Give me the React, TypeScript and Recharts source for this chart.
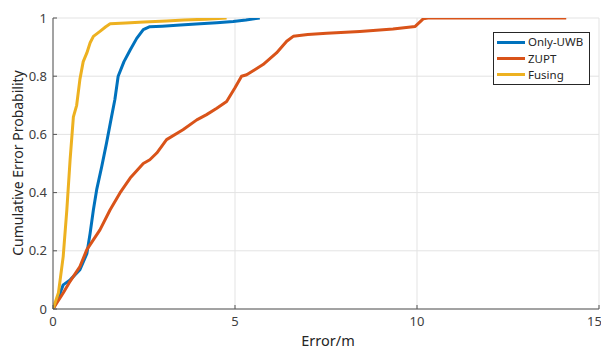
import { LineChart, Line, XAxis, YAxis, CartesianGrid, Legend } from 'recharts';

// error (m) vs cumulative probability, one pair of arrays per method
const uwbErr = [0, 0.12, 0.28, 0.47, 0.74, 0.93, 1.02, 1.11, 1.2, 1.34, 1.47, 1.61, 1.7, 1.79, 1.95, 2.12, 2.3, 2.48, 2.66, 3.0, 3.5, 4.04, 4.5, 4.95, 5.3, 5.68];
const uwbP = [0, 0.03, 0.083, 0.1, 0.135, 0.19, 0.26, 0.341, 0.41, 0.49, 0.57, 0.662, 0.72, 0.8, 0.85, 0.89, 0.93, 0.96, 0.97, 0.972, 0.976, 0.98, 0.984, 0.988, 0.993, 1.0];

const zuptErr = [0, 0.1, 0.28, 0.47, 0.74, 0.93, 1.29, 1.57, 1.84, 2.12, 2.48, 2.66, 2.85, 3.12, 3.57, 3.95, 4.22, 4.5, 4.77, 5.0, 5.18, 5.32, 5.77, 6.14, 6.42, 6.6, 7.0, 7.52, 8.43, 9.34, 9.95, 10.17, 10.3, 12.0, 14.1];
const zuptP = [0, 0.02, 0.055, 0.095, 0.146, 0.204, 0.272, 0.341, 0.399, 0.45, 0.5, 0.513, 0.536, 0.582, 0.616, 0.65, 0.668, 0.69, 0.713, 0.76, 0.8, 0.805, 0.84, 0.88, 0.92, 0.937, 0.943, 0.948, 0.954, 0.962, 0.971, 0.997, 1.0, 1.0, 1.0];

const fuseErr = [0, 0.15, 0.28, 0.38, 0.47, 0.56, 0.65, 0.74, 0.83, 0.93, 1.02, 1.11, 1.29, 1.45, 1.57, 2.0, 2.5, 3.12, 3.6, 4.2, 4.77];
const fuseP = [0, 0.056, 0.18, 0.341, 0.513, 0.66, 0.7, 0.79, 0.85, 0.88, 0.915, 0.937, 0.954, 0.97, 0.98, 0.983, 0.986, 0.99, 0.993, 0.996, 1.0];

const xTicks = [0, 5, 10, 15];
const yTicks = [0, 0.2, 0.4, 0.6, 0.8, 1];

const toPoints = (xs: number[], ps: number[]) => xs.map((x, i) => ({ x, p: ps[i] }));

const series = [
  { name: 'Only-UWB', color: '#0072BD', data: toPoints(uwbErr, uwbP) },
  { name: 'ZUPT', color: '#D95319', data: toPoints(zuptErr, zuptP) },
  { name: 'Fusing', color: '#EDB120', data: toPoints(fuseErr, fuseP) },
];

const FONT = '"Noto Sans", "Open Sans", sans-serif';
const tickStyle = { fill: '#404040', fontSize: 13, fontFamily: FONT };

const LegendBox = () => (
  <div style={{
    border: '1px solid #262626', background: '#fff', padding: '1px 6px 1px 3px',
    fontFamily: FONT, fontSize: 11.5, color: '#262626', lineHeight: 1,
  }}>
    {series.map(s => (
      <div key={s.name} style={{ display: 'flex', alignItems: 'center', height: 16.3 }}>
        <span style={{ width: 28, height: 3, background: s.color, marginRight: 3 }} />
        <span>{s.name}</span>
      </div>
    ))}
  </div>
);

const App = () => {
  return (
    <div style={{ position: 'absolute', left: 0, top: 0, width: 601, height: 351, background: '#fff' }}>
      <LineChart width={601} height={351} margin={{ top: 18, right: 2, bottom: 0, left: 0 }}>
        <CartesianGrid stroke="#e3e3e3" strokeWidth={1} />
        <XAxis
          type="number" dataKey="x" domain={[0, 15]} ticks={xTicks} height={42}
          allowDataOverflow tick={tickStyle} tickSize={-4} tickMargin={12}
          axisLine={{ stroke: '#555' }} tickLine={{ stroke: '#555' }}
        />
        <YAxis
          type="number" dataKey="p" domain={[0, 1]} ticks={yTicks} width={53}
          allowDataOverflow tick={tickStyle} tickSize={-4} tickMargin={10}
          axisLine={{ stroke: '#555' }} tickLine={{ stroke: '#555' }}
        />
        <Legend
          layout="vertical" align="center" verticalAlign="middle"
          content={<LegendBox />}
          wrapperStyle={{ left: 493, top: 32, width: 'auto', height: 'auto' }}
        />
        {series.map(s => (
          <Line
            key={s.name} name={s.name} data={s.data} dataKey="p" type="linear"
            stroke={s.color} strokeWidth={3} dot={false} strokeLinejoin="round"
            isAnimationActive={false}
          />
        ))}
      </LineChart>
      <svg width={601} height={351} style={{ position: 'absolute', left: 0, top: 0, pointerEvents: 'none' }}>
        <text
          x={23} y={163} transform="rotate(-90 23 163)" textAnchor="middle"
          fontFamily={FONT} fontSize={14} fill="#262626"
        >Cumulative Error Probability</text>
        <text x={328} y={346} textAnchor="middle" fontFamily={FONT} fontSize={14.5} fill="#262626">
          Error/m
        </text>
      </svg>
    </div>
  );
};

export default App;
